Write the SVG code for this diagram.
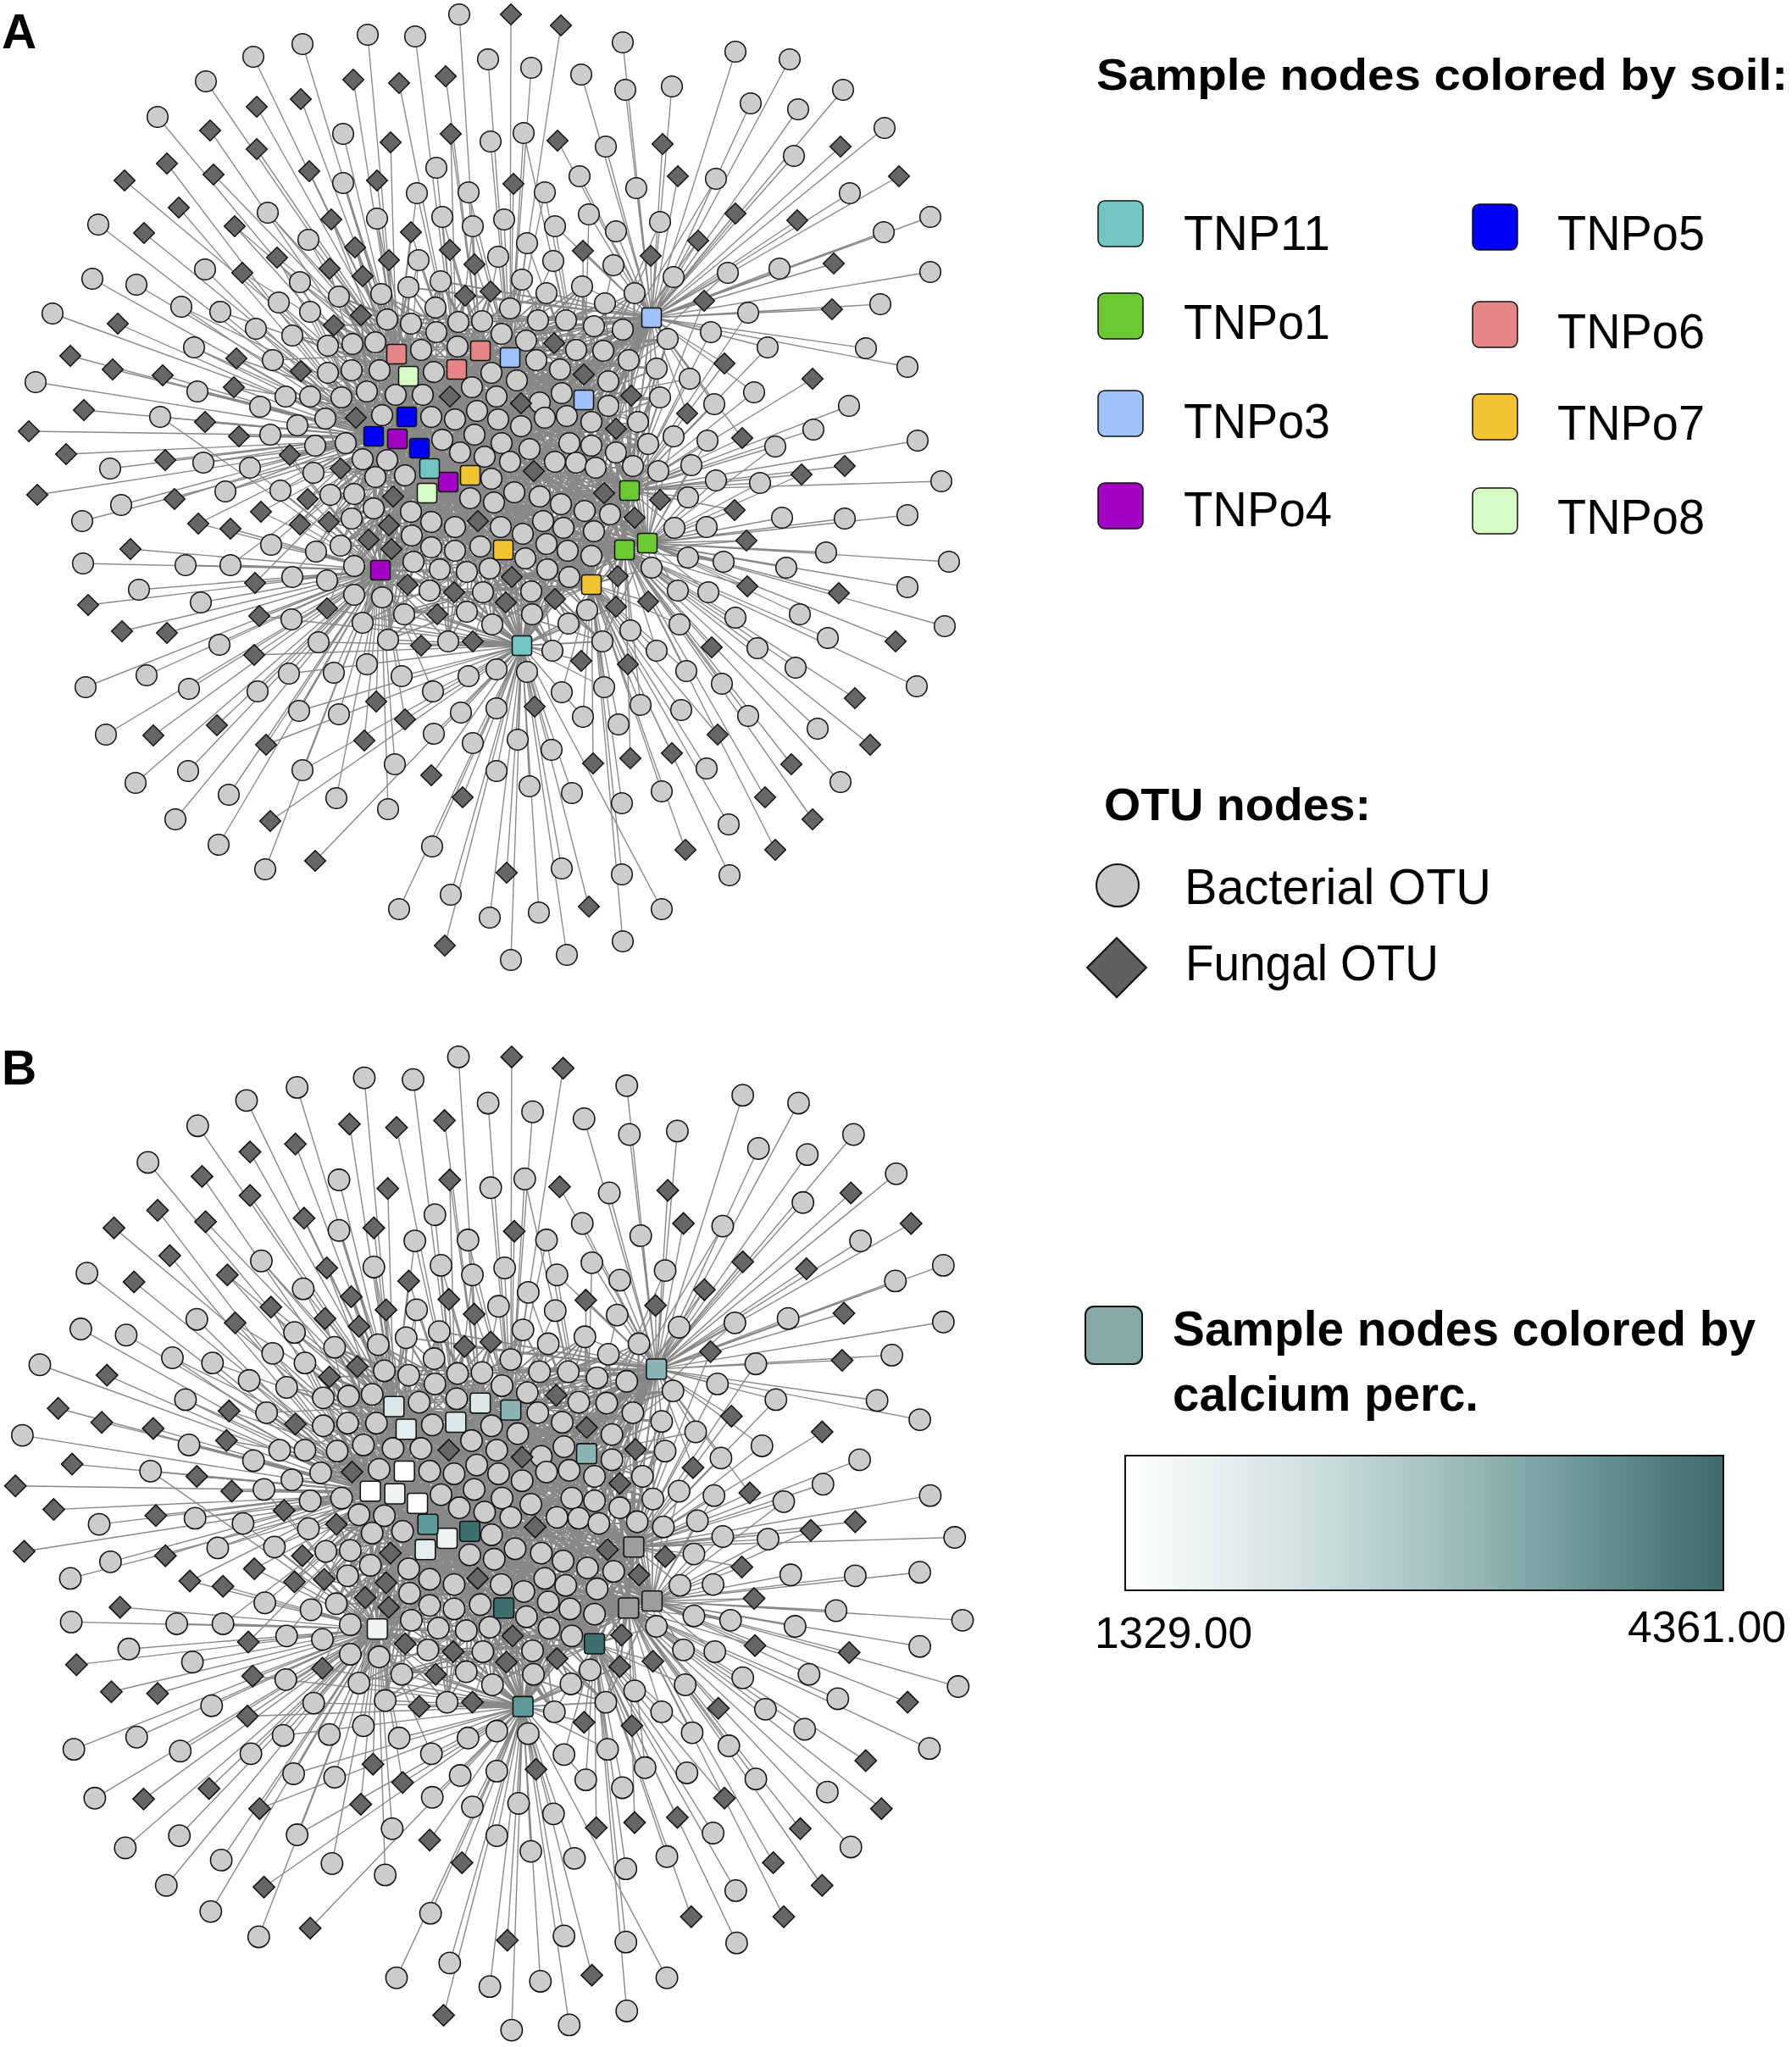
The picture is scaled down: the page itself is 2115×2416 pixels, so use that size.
<svg xmlns="http://www.w3.org/2000/svg" xmlns:xlink="http://www.w3.org/1999/xlink" width="2115" height="2416" viewBox="0 0 2115 2416">
<style>
.e path{fill:none;stroke:#888888;stroke-width:1.35;stroke-linejoin:bevel}
.e path.m{stroke-width:1.8}
.c circle{fill:#cccccc;stroke:#111;stroke-width:1.5}
.d use{fill:#666666;stroke:#111;stroke-width:1.5}
.s{stroke:#111;stroke-width:1.5}
.o11{fill:#72c5c3}.o1{fill:#6cc934}.o3{fill:#9ec3fb}.o4{fill:#a202c3}.o5{fill:#0000fa}.o6{fill:#e58585}.o7{fill:#f1c431}.o8{fill:#d8fcc6}
.b11{fill:#5c9a9a}.b1{fill:#9d9d9d}.b3{fill:#8ab4b4}.b4{fill:#eef4f4}.b5{fill:#ffffff}.b6{fill:#dce7e7}.b7{fill:#3e6e6e}.b8{fill:#e3eded}
.t{font-family:"Liberation Sans",Arial,sans-serif;fill:#000}
.bd{font-weight:700}
</style>
<defs>
<path id="dm" d="M0 -12.3L12.3 0L0 12.3L-12.3 0Z"/>
<linearGradient id="cb" x1="0" y1="0" x2="1" y2="0">
<stop offset="0" stop-color="#ffffff"/>
<stop offset="0.04" stop-color="#f8fbfb"/>
<stop offset="0.3" stop-color="#d0e0e0"/>
<stop offset="0.5" stop-color="#a9c4c4"/>
<stop offset="0.7" stop-color="#7aa3a3"/>
<stop offset="0.9" stop-color="#4f7d7d"/>
<stop offset="1" stop-color="#3e6a6a"/>
</linearGradient>
<g id="net">
<g id="connectors" class="e">
<path class="m" d="M468 418L400 350 743 579 450 347 441 515 482 339 769 375 520 332 449 673 514 363 567 414 457 377 698 690 485 382 480 492 515 392 689 472 541 380 616 762 569 379 482 444 592 394 764 641 602 364 469 518 616 330 602 422 645 346 594 649 687 338 539 436 714 358 737 649 749 346 495 529 621 402 555 561 635 378 504 582 668 378 507 553 701 385 529 569 735 389 468 418 416 406 743 579 443 404 441 515 497 413 769 375 540 409 449 673 680 413 567 414 712 414 698 690 742 425 480 492 387 408 689 472 387 440 616 762 415 437 482 444 448 437 764 641 512 439 469 518 580 440 602 422 633 425 594 649 661 436 539 436 718 450 737 649 403 469 495 529 433 462 555 561 467 466 504 582 499 466 507 553 557 457 529 569 586 468 468 418 610 449 743 579 637 475 441 515 663 464 769 375 718 479 449 673 384 494 567 414 451 490 698 690 509 492 480 492 537 495 689 472 563 485 616 762 588 495 482 444 615 503 764 641 643 493 469 518 669 491 602 422 698 498 594 649 753 498 539 436 408 523 737 649 522 519 495 529 560 513 555 561 592 523 504 582 625 530 507 553 672 523 529 569 698 526 468 418 727 534 743 579 428 542 441 515 457 543 769 375 543 534 449 673 572 539 567 414 602 545 698 690 655 545 480 492 680 546 689 472 703 552 616 762 747 550 482 444 443 563 764 641 478 561 469 518 580 565 602 422 390 584 594 649 418 583 539 436 555 588 737 649 583 593 495 529 607 581 555 561 637 586 504 582 662 595 507 553 690 603 529 569 720 607 468 418 415 612 743 579 441 600 441 515 485 604 769 375 509 616 449 673 537 622 567 414 591 622 698 690 617 630 480 492 641 615 689 472 665 623 616 762 701 627 482 444 402 644 764 641 486 632 469 518 509 646 602 422 537 650 594 649 567 645 539 436 620 659 737 649 645 642 495 529 670 650 555 561 698 656 504 582 418 668 507 553 488 663 529 569 519 672 468 418 551 675 743 579 578 671 441 515 646 672 769 375 672 681 449 673 418 702 567 414 451 705 698 690 507 697 480 492 570 699 689 472 627 698 616 762 693 720 482 444 428 735 764 641 477 725 469 518 551 722 602 422 581 737 594 649 628 725 539 436 671 736 737 649 458 755 495 529 529 757 555 561 652 768 504 582 711 757 507 553 765 524 529 569 777 556 468 418 775 435 743 579 779 469 441 515 788 400 769 375 549 349 449 673 579 344 567 414 426 372 698 690 394 384 480 492 654 405 689 472 689 442 616 762 531 468 482 444 615 476 764 641 745 467 469 518 420 493 602 422 727 506 594 649 402 553 539 436 630 556 737 649 464 586 495 529 713 582 555 561 388 616 504 582 564 615 507 553 749 611 529 569 435 637 468 418 459 620 743 579 462 648 441 515 604 681 769 375 729 680 449 673 481 690 567 414 536 699 698 690 597 711 480 492 655 707 689 472 727 716 616 762"/>
<path class="m" d="M468 418L727 716 743 579 655 707 441 515 597 711 769 375 536 699 449 673 481 690 567 414 729 680 698 690 604 681 480 492 462 648 689 472 459 620 616 762 435 637 482 444 749 611 764 641 564 615 469 518 388 616 602 422 713 582 594 649 464 586 539 436 630 556 737 649 402 553 495 529 727 506 555 561 420 493 504 582 745 467 507 553 615 476 529 569 531 468 468 418 689 442 743 579 654 405 441 515 394 384 769 375 426 372 449 673 579 344 567 414 549 349 698 690 788 400 480 492 779 469 689 472 775 435 616 762 777 556 482 444 765 524 764 641 711 757 469 518 652 768 602 422 529 757 594 649 458 755 539 436 671 736 737 649 628 725 495 529 581 737 555 561 551 722 504 582 477 725 507 553 428 735 529 569 693 720 468 418 627 698 743 579 570 699 441 515 507 697 769 375 451 705 449 673 418 702 567 414 672 681 698 690 646 672 480 492 578 671 689 472 551 675 616 762 519 672 482 444 488 663 764 641 418 668 469 518 698 656 602 422 670 650 594 649 645 642 539 436 620 659 737 649 567 645 495 529 537 650 555 561 509 646 504 582 486 632 507 553 402 644 529 569 701 627 468 418 665 623 743 579 641 615 441 515 617 630 769 375 591 622 449 673 537 622 567 414 509 616 698 690 485 604 480 492 441 600 689 472 415 612 616 762 720 607 482 444 690 603 764 641 662 595 469 518 637 586 602 422 607 581 594 649 583 593 539 436 555 588 737 649 418 583 495 529 390 584 555 561 580 565 504 582 478 561 507 553 443 563 529 569 747 550 468 418 703 552 743 579 680 546 441 515 655 545 769 375 602 545 449 673 572 539 567 414 543 534 698 690 457 543 480 492 428 542 689 472 727 534 616 762 698 526 482 444 672 523 764 641 625 530 469 518 592 523 602 422 560 513 594 649 522 519 539 436 408 523 737 649 753 498 495 529 698 498 555 561 669 491 504 582 643 493 507 553 615 503 529 569 588 495 468 418 563 485 743 579 537 495 441 515 509 492 769 375 451 490 449 673 384 494 567 414 718 479 698 690 663 464 480 492 637 475 689 472 610 449 616 762 586 468 482 444 557 457 764 641 499 466 469 518 467 466 602 422 433 462 594 649 403 469 539 436 718 450 737 649 661 436 495 529 633 425 555 561 580 440 504 582 512 439 507 553 448 437 529 569 415 437 468 418 387 440 743 579 387 408 441 515 742 425 769 375 712 414 449 673 680 413 567 414 540 409 698 690 497 413 480 492 443 404 689 472 416 406 616 762 735 389 482 444 701 385 764 641 668 378 469 518 635 378 602 422 621 402 594 649 749 346 539 436 714 358 737 649 687 338 495 529 645 346 555 561 616 330 504 582 602 364 507 553 592 394 529 569 569 379 468 418 541 380 743 579 515 392 441 515 485 382 769 375 457 377 449 673 514 363 567 414 520 332 698 690 482 339 480 492 450 347 689 472 400 350 616 762"/>
<path class="m" d="M468 418L400 350 567 414 482 339 482 444 514 363 539 436 485 382 507 553 541 380 769 375 592 394 689 472 616 330 602 422 687 338 555 561 749 346 743 579 635 378 698 690 701 385 764 641 416 406 737 649 497 413 529 569 680 413 449 673 742 425 616 762 387 440 594 649 448 437 504 582 580 440 441 515 661 436 480 492 403 469 469 518 467 466 495 529 557 457 468 418 610 449 567 414 663 464 482 444 384 494 539 436 509 492 507 553 563 485 769 375 615 503 689 472 669 491 602 422 753 498 555 561 522 519 743 579 592 523 698 690 672 523 764 641 727 534 737 649 457 543 529 569 572 539 449 673 655 545 616 762 703 552 594 649 443 563 504 582 580 565 441 515 418 583 480 492 583 593 469 518 637 586 495 529 690 603 468 418 415 612 567 414 485 604 482 444 537 622 539 436 617 630 507 553 665 623 769 375 402 644 689 472 509 646 602 422 567 645 555 561 645 642 743 579 698 656 698 690 488 663 764 641 551 675 737 649 646 672 529 569 418 702 449 673 507 697 616 762 627 698 594 649 428 735 504 582 551 722 441 515 628 725 480 492 458 755 469 518 652 768 495 529 765 524 468 418 775 435 567 414 788 400 482 444 579 344 539 436 394 384 507 553 689 442 769 375 615 476 689 472 420 493 602 422 402 553 555 561 464 586 743 579 388 616 698 690 749 611 764 641 459 620 737 649 604 681 529 569 481 690 449 673 597 711 616 762 727 716 594 649 450 347 504 582 520 332 441 515 457 377 480 492 515 392 469 518 569 379 495 529 602 364 468 418 645 346 567 414 714 358 482 444 621 402 539 436 668 378 507 553 735 389 769 375 443 404 689 472 540 409 602 422 712 414 555 561 387 408 743 579 415 437 698 690 512 439 764 641 633 425 737 649 718 450 529 569 433 462 449 673 499 466 616 762 586 468 594 649 637 475 504 582 718 479 441 515 451 490 480 492 537 495 469 518 588 495 495 529 643 493 468 418 698 498 567 414 408 523 482 444 560 513 539 436 625 530 507 553 698 526 769 375 428 542 689 472 543 534 602 422 602 545 555 561 680 546 743 579 747 550 698 690 478 561 764 641 390 584 737 649 555 588 529 569 607 581 449 673 662 595 616 762 720 607 594 649 441 600 504 582 509 616 441 515 591 622 480 492 641 615 469 518 701 627 495 529 486 632 468 418 537 650 567 414 620 659 482 444 670 650 539 436 418 668 507 553 519 672 769 375 578 671 689 472 672 681 602 422 451 705 555 561 570 699 743 579 693 720 698 690 477 725 764 641 581 737 737 649 671 736 529 569 529 757 449 673 711 757 616 762 777 556 594 649 779 469 504 582 549 349 441 515 426 372 480 492 654 405 469 518 531 468 495 529 745 467 468 418 727 506 567 414 630 556 482 444 713 582 539 436 564 615 507 553 435 637 769 375 462 648 689 472 729 680 602 422 536 699 555 561 655 707 743 579"/>
<path d="M468 418L357 52M468 418L299 67M468 418L355 117M468 418L303 176M468 418L365 202M468 418L316 251M468 418L364 283M468 418L327 304M468 418L354 333M468 418L366 368M468 418L345 396M468 418L322 425M468 418L366 468M468 418L434 41M468 418L417 94M468 418L405 158M468 418L461 168M468 418L405 216M468 418L445 213M468 418L492 228M468 418L391 259M468 418L445 258M468 418L485 274M468 418L419 292M468 418L389 317M468 418L459 307M468 418L494 307M468 418L428 326M468 418L482 339M468 418L400 350M468 418L450 347M468 418L426 372M468 418L394 384M468 418L457 377M468 418L485 382M468 418L416 406M468 418L443 404M468 418L387 408M468 418L387 440M468 418L415 437M468 418L448 437"/>
<path d="M482 444L243 96M482 444L303 126M482 444L252 206M482 444L316 251M482 444L277 267M482 444L286 322M482 444L354 333M482 444L260 368M482 444L345 396M482 444L355 438M482 444L405 216M482 444L445 258M482 444L419 292M482 444L459 307M482 444L494 307M482 444L482 339M482 444L520 332M482 444L400 350M482 444L450 347M482 444L514 363M482 444L426 372M482 444L457 377M482 444L485 382M482 444L515 392M482 444L443 404M482 444L497 413M482 444L415 437M482 444L448 437M482 444L512 439M482 444L433 462M482 444L467 466M482 444L499 466"/>
<path d="M480 492L186 138M480 492L248 154M480 492L147 213M480 492L277 267M480 492L364 283M480 492L329 357M480 492L214 362M480 492L366 368M480 492L279 423M480 492L355 438M480 492L276 457M480 492L337 468M480 492L366 468M480 492L351 502M480 492L391 259M480 492L419 292M480 492L428 326M480 492L400 350M480 492L394 384M480 492L457 377M480 492L416 406M480 492L387 440M480 492L448 437M480 492L512 439M480 492L403 469M480 492L433 462M480 492L467 466M480 492L499 466M480 492L531 468M480 492L384 494M480 492L420 493M480 492L451 490M480 492L509 492"/>
<path d="M441 515L197 193M441 515L211 245M441 515L116 265M441 515L327 304M441 515L242 318M441 515L109 329M441 515L354 333M441 515L214 362M441 515L260 368M441 515L366 368M441 515L139 382M441 515L302 388M441 515L345 396M441 515L229 410M441 515L83 420M441 515L279 423M441 515L322 425M441 515L355 438M441 515L192 443M441 515L42 451M441 515L233 462M441 515L276 457M441 515L337 468M441 515L307 480M441 515L366 468M441 515L189 492M441 515L242 498M441 515L351 502M441 515L34 509M441 515L282 515M441 515L319 513M441 515L372 526M441 515L342 537M441 515L195 543M441 515L240 546M441 515L295 552M441 515L130 553M441 515L370 558M441 515L389 317M441 515L426 372M441 515L416 406M441 515L387 408M441 515L387 440M441 515L415 437M441 515L403 469M441 515L433 462M441 515L384 494M441 515L420 493M441 515L451 490M441 515L408 523M441 515L428 542M441 515L457 543M441 515L402 553M441 515L443 563M441 515L143 596M441 515L206 589M441 515L266 580M441 515L331 579M441 515L363 589M441 515L234 618M441 515L354 619M441 515L373 651M441 515L390 584"/>
<path d="M469 518L170 275M469 518L286 322M469 518L161 336M469 518L329 357M469 518L62 370M469 518L302 388M469 518L229 410M469 518L322 425M469 518L133 436M469 518L233 462M469 518L337 468M469 518L307 480M469 518L366 468M469 518L99 484M469 518L242 498M469 518L351 502M469 518L282 515M469 518L319 513M469 518L372 526M469 518L78 536M469 518L342 537M469 518L240 546M469 518L370 558M469 518L44 584M469 518L403 469M469 518L384 494M469 518L420 493M469 518L451 490M469 518L408 523M469 518L428 542M469 518L457 543M469 518L402 553M469 518L443 563M469 518L478 561M469 518L266 580M469 518L331 579M469 518L363 589M469 518L97 615M469 518L308 604M469 518L354 619M469 518L320 643M469 518L373 651M469 518L272 667M469 518L301 688M469 518L345 681M469 518L386 718M469 518L390 584M469 518L418 583M469 518L464 586M469 518L388 616M469 518L415 612M469 518L441 600M469 518L402 644M469 518L435 637"/>
<path d="M449 673L189 492M449 673L319 513M449 673L342 537M449 673L295 552M449 673L402 553M449 673L443 563M449 673L331 579M449 673L363 589M449 673L234 618M449 673L308 604M449 673L272 624M449 673L354 619M449 673L154 648M449 673L320 643M449 673L373 651M449 673L98 665M449 673L219 667M449 673L272 667M449 673L301 688M449 673L345 681M449 673L164 696M449 673L104 714M449 673L237 711M449 673L306 727M449 673L344 731M449 673L144 745M449 673L197 747M449 673L259 761M449 673L376 758M449 673L300 773M449 673L173 797M449 673L101 811M449 673L223 813M449 673L341 795M449 673L304 816M449 673L353 839M449 673L256 856M449 673L125 867M449 673L181 868M449 673L314 879M449 673L222 910M449 673L357 909M449 673L160 924M449 673L270 938M449 673L207 967M449 673L258 997M449 673L313 1026M449 673L390 584M449 673L418 583M449 673L464 586M449 673L388 616M449 673L415 612M449 673L441 600M449 673L485 604M449 673L402 644M449 673L435 637M449 673L459 620M449 673L486 632M449 673L509 646M449 673L462 648M449 673L418 668M449 673L386 685M449 673L488 663M449 673L519 672M449 673L481 690M449 673L418 702M449 673L451 705M449 673L507 697M449 673L386 718M449 673L428 735M449 673L477 725M449 673L516 725M449 673L458 755M449 673L497 762M449 673L394 794M449 673L433 784M449 673L474 798M449 673L511 816M449 673L444 828M449 673L400 843M449 673L478 849M449 673L430 874M449 673L466 902M449 673L397 942M449 673L458 955"/>
<path d="M539 436L490 43M539 436L471 98M539 436L532 158M539 436L515 198M539 436L492 228M539 436L522 256M539 436L558 267M539 436L485 274M539 436L494 307M539 436L531 295M539 436L482 339M539 436L520 332M539 436L549 349M539 436L514 363M539 436L485 382M539 436L515 392M539 436L541 380M539 436L497 413M539 436L540 409M539 436L512 439M539 436L580 440M539 436L499 466M539 436L531 468M539 436L557 457M539 436L509 492M539 436L537 495M539 436L563 485M539 436L522 519"/>
<path d="M567 414L542 17M567 414L526 90M567 414L532 158M567 414L553 227M567 414L522 256M567 414L558 267M567 414L531 295M567 414L560 312M567 414L588 303M567 414L616 330M567 414L520 332M567 414L549 349M567 414L579 344M567 414L514 363M567 414L602 364M567 414L541 380M567 414L569 379M567 414L592 394M567 414L540 409M567 414L580 440"/>
<path d="M602 422L603 17M602 422L662 30M602 422L576 70M602 422L627 80M602 422L579 167M602 422L618 157M602 422L553 227M602 422L606 217M602 422L643 227M602 422L558 267M602 422L595 259M602 422L622 287M602 422L560 312M602 422L588 303M602 422L653 308M602 422L616 330M602 422L579 344M602 422L645 346M602 422L602 364M602 422L569 379M602 422L592 394M602 422L621 402M602 422L635 378M602 422L654 405M602 422L580 440M602 422L633 425M602 422L661 436M602 422L557 457M602 422L586 468M602 422L610 449M602 422L615 476M602 422L637 475M602 422L563 485M602 422L588 495"/>
<path d="M769 375L735 50M769 375L686 88M769 375L738 106M769 375L658 166M769 375L715 173M769 375L684 208M769 375L751 222M769 375L655 267M769 375L695 253M769 375L727 273M769 375L688 296M769 375L724 313M769 375L645 346M769 375L687 338M769 375L714 358M769 375L749 346M769 375L635 378M769 375L668 378M769 375L701 385M769 375L735 389M769 375L654 405M769 375L680 413M769 375L712 414M769 375L742 425M769 375L689 442M769 375L718 450M769 375L663 464M769 375L745 467M769 375L753 498M769 375L868 61M769 375L932 70M769 375L793 102M769 375L886 122M769 375L942 129M769 375L995 106M769 375L1044 151M769 375L782 170M769 375L992 173M769 375L937 184M769 375L800 208M769 375L845 211M769 375L1061 208M769 375L1003 228M769 375L868 252M769 375L941 260M769 375L779 262M769 375L1098 256M769 375L1043 274M769 375L824 284M769 375L768 302M769 375L984 311M769 375L795 327M769 375L859 322M769 375L920 317M769 375L1098 321M769 375L831 355M769 375L883 369M769 375L982 365M769 375L1039 359M769 375L788 400M769 375L839 392M769 375L906 410M769 375L1022 411M769 375L775 435M769 375L855 429M769 375L814 447M769 375L1071 433M769 375L779 469M769 375L843 477M769 375L890 463M769 375L811 488M769 375L876 517M769 375L765 524"/>
<path d="M689 472L618 157M689 472L643 227M689 472L655 267M689 472L695 253M689 472L622 287M689 472L688 296M689 472L653 308M689 472L724 313M689 472L616 330M689 472L645 346M689 472L687 338M689 472L714 358M689 472L602 364M689 472L621 402M689 472L635 378M689 472L668 378M689 472L701 385M689 472L654 405M689 472L680 413M689 472L712 414M689 472L633 425M689 472L661 436M689 472L689 442M689 472L718 450M689 472L586 468M689 472L610 449M689 472L615 476M689 472L637 475M689 472L663 464M689 472L718 479M689 472L745 467M689 472L588 495M689 472L615 503M689 472L643 493M689 472L669 491M689 472L698 498M689 472L727 506M689 472L560 513M689 472L592 523M689 472L625 530M689 472L672 523M689 472L698 526M689 472L727 534M689 472L602 545M689 472L655 545M689 472L680 546M689 472L703 552M689 472L845 211M689 472L868 252M689 472L779 262M689 472L824 284M689 472L768 302M689 472L795 327M689 472L859 322M689 472L788 400M689 472L775 435M689 472L814 447M689 472L779 469M689 472L765 524M689 472L607 581M689 472L713 582"/>
<path d="M743 579L735 389M743 579L742 425M743 579L718 450M743 579L718 479M743 579L745 467M743 579L643 493M743 579L669 491M743 579L698 498M743 579L753 498M743 579L727 506M743 579L625 530M743 579L672 523M743 579L698 526M743 579L727 534M743 579L655 545M743 579L680 546M743 579L703 552M743 579L747 550M743 579L630 556M743 579L831 355M743 579L883 369M743 579L788 400M743 579L839 392M743 579L906 410M743 579L775 435M743 579L855 429M743 579L814 447M743 579L959 447M743 579L779 469M743 579L843 477M743 579L890 463M743 579L1002 479M743 579L811 488M743 579L795 515M743 579L835 520M743 579L876 517M743 579L960 507M743 579L915 527M743 579L1083 520M743 579L765 524M743 579L777 556M743 579L816 549M743 579L997 550M743 579L946 560M743 579L845 567M743 579L897 570M743 579L1111 568M743 579L637 586M743 579L662 595M743 579L690 603M743 579L713 582M743 579L720 607M743 579L641 615M743 579L701 627M743 579L749 611M743 579L779 590M743 579L812 587M743 579L867 602M743 579L796 623"/>
<path d="M764 641L747 550M764 641L795 515M764 641L835 520M764 641L915 527M764 641L777 556M764 641L816 549M764 641L946 560M764 641L845 567M764 641L897 570M764 641L749 611M764 641L779 590M764 641L812 587M764 641L867 602M764 641L923 611M764 641L997 612M764 641L1071 608M764 641L796 623M764 641L834 622M764 641L881 638M764 641L975 652M764 641L1120 663M764 641L812 658M764 641L854 663M764 641L928 670M764 641L769 670M764 641L882 692M764 641L990 700M764 641L1071 693M764 641L800 697M764 641L836 699M764 641L944 725M764 641L1115 739M764 641L1057 757"/>
<path d="M737 649L720 607M737 649L665 623M737 649L701 627M737 649L645 642M737 649L670 650M737 649L698 656M737 649L672 681M737 649L729 680M737 649L727 716M737 649L744 744M737 649L711 757M737 649L741 784M737 649L756 832M737 649L744 895M737 649L881 638M737 649L812 658M737 649L854 663M737 649L769 670M737 649L882 692M737 649L800 697M737 649L836 699M737 649L765 710M737 649L868 729M737 649L802 737M737 649L977 753M737 649L840 764M737 649L894 765M737 649L775 768M737 649L939 788M737 649L810 792M737 649L852 807M737 649L1082 810M737 649L1009 824M737 649L883 845M737 649L965 860M737 649L1027 879M737 649L934 902M737 649L992 923M737 649L903 941M737 649L959 967M737 649L915 1003"/>
<path d="M698 690L662 595M698 690L690 603M698 690L617 630M698 690L641 615M698 690L665 623M698 690L701 627M698 690L620 659M698 690L645 642M698 690L670 650M698 690L698 656M698 690L604 681M698 690L646 672M698 690L672 681M698 690L729 680M698 690L627 698M698 690L655 707M698 690L727 716M698 690L693 720M698 690L628 725M698 690L671 736M698 690L744 744M698 690L652 768M698 690L686 780M698 690L711 757M698 690L741 784M698 690L663 817M698 690L713 811M698 690L756 832M698 690L688 846M698 690L730 855M698 690L700 901M698 690L734 948M698 690L734 1032M698 690L735 1111M698 690L769 670M698 690L765 710M698 690L802 737M698 690L775 768M698 690L810 792M698 690L804 838M698 690L847 867M698 690L793 889M698 690L834 907M698 690L781 934M698 690L860 973M698 690L809 1003M698 690L861 1033"/>
<path d="M555 561L557 457M555 561L586 468M555 561L615 476M555 561L537 495M555 561L563 485M555 561L588 495M555 561L615 503M555 561L560 513M555 561L592 523M555 561L625 530M555 561L543 534M555 561L572 539M555 561L602 545M555 561L655 545M555 561L630 556M555 561L580 565M555 561L555 588M555 561L583 593M555 561L607 581M555 561L637 586M555 561L564 615M555 561L591 622"/>
<path d="M594 649L602 545M594 649L630 556M594 649L580 565M594 649L583 593M594 649L607 581M594 649L637 586M594 649L662 595M594 649L509 616M594 649L537 622M594 649L564 615M594 649L591 622M594 649L617 630M594 649L641 615M594 649L486 632M594 649L509 646M594 649L537 650M594 649L567 645M594 649L620 659M594 649L645 642M594 649L488 663M594 649L519 672M594 649L551 675M594 649L578 671M594 649L604 681M594 649L646 672M594 649L481 690M594 649L507 697M594 649L536 699M594 649L570 699M594 649L627 698M594 649L597 711M594 649L551 722M594 649L581 737M594 649L558 757"/>
<path d="M507 553L531 468M507 553L537 495M507 553L522 519M507 553L560 513M507 553L428 542M507 553L457 543M507 553L543 534M507 553L572 539M507 553L478 561M507 553L415 612M507 553L370 558"/>
<path d="M495 529L372 526M495 529L509 492M495 529L522 519M495 529L543 534"/>
<path d="M529 569L555 588M529 569L485 604M529 569L509 616M529 569L537 622M529 569L537 650"/>
<path d="M504 582L478 561M504 582L464 586M504 582L555 588M504 582L441 600M504 582L485 604M504 582L509 616M504 582L459 620M504 582L486 632M504 582L462 648"/>
<path d="M616 762L386 685M616 762L306 727M616 762L386 718M616 762L376 758M616 762L300 773M616 762L341 795M616 762L353 839M616 762L314 879M616 762L357 909M616 762L319 969M616 762L372 1016M616 762L551 675M616 762L451 705M616 762L507 697M616 762L536 699M616 762L570 699M616 762L627 698M616 762L597 711M616 762L655 707M616 762L693 720M616 762L428 735M616 762L477 725M616 762L516 725M616 762L551 722M616 762L581 737M616 762L628 725M616 762L671 736M616 762L458 755M616 762L497 762M616 762L529 757M616 762L558 757M616 762L652 768M616 762L686 780M616 762L433 784M616 762L474 798M616 762L553 798M616 762L586 790M616 762L622 793M616 762L663 817M616 762L713 811M616 762L511 816M616 762L478 849M616 762L544 841M616 762L586 836M616 762L631 834M616 762L688 846M616 762L512 866M616 762L558 877M616 762L611 873M616 762L651 885M616 762L509 915M616 762L586 910M616 762L625 928M616 762L675 936M616 762L546 941M616 762L510 999M616 762L663 1025M616 762L598 1030M616 762L532 1056M616 762L471 1073M616 762L578 1083M616 762L636 1077M616 762L695 1070M616 762L525 1116M616 762L603 1133M616 762L669 1127M616 762L781 1073"/>
</g>
<g id="bacterial-otus" class="c">
<circle cx="357" cy="52" r="12.3"/><circle cx="299" cy="67" r="12.3"/><circle cx="243" cy="96" r="12.3"/><circle cx="186" cy="138" r="12.3"/><circle cx="316" cy="251" r="12.3"/><circle cx="116" cy="265" r="12.3"/><circle cx="364" cy="283" r="12.3"/><circle cx="242" cy="318" r="12.3"/><circle cx="109" cy="329" r="12.3"/><circle cx="161" cy="336" r="12.3"/><circle cx="354" cy="333" r="12.3"/><circle cx="329" cy="357" r="12.3"/><circle cx="214" cy="362" r="12.3"/><circle cx="260" cy="368" r="12.3"/><circle cx="366" cy="368" r="12.3"/><circle cx="62" cy="370" r="12.3"/><circle cx="302" cy="388" r="12.3"/><circle cx="345" cy="396" r="12.3"/><circle cx="229" cy="410" r="12.3"/><circle cx="322" cy="425" r="12.3"/><circle cx="42" cy="451" r="12.3"/><circle cx="233" cy="462" r="12.3"/><circle cx="337" cy="468" r="12.3"/><circle cx="307" cy="480" r="12.3"/><circle cx="366" cy="468" r="12.3"/><circle cx="189" cy="492" r="12.3"/><circle cx="351" cy="502" r="12.3"/><circle cx="319" cy="513" r="12.3"/><circle cx="372" cy="526" r="12.3"/><circle cx="240" cy="546" r="12.3"/><circle cx="295" cy="552" r="12.3"/><circle cx="130" cy="553" r="12.3"/><circle cx="370" cy="558" r="12.3"/>
<circle cx="542" cy="17" r="12.3"/><circle cx="434" cy="41" r="12.3"/><circle cx="490" cy="43" r="12.3"/><circle cx="735" cy="50" r="12.3"/><circle cx="576" cy="70" r="12.3"/><circle cx="627" cy="80" r="12.3"/><circle cx="686" cy="88" r="12.3"/><circle cx="738" cy="106" r="12.3"/><circle cx="405" cy="158" r="12.3"/><circle cx="579" cy="167" r="12.3"/><circle cx="618" cy="157" r="12.3"/><circle cx="715" cy="173" r="12.3"/><circle cx="515" cy="198" r="12.3"/><circle cx="405" cy="216" r="12.3"/><circle cx="492" cy="228" r="12.3"/><circle cx="553" cy="227" r="12.3"/><circle cx="643" cy="227" r="12.3"/><circle cx="684" cy="208" r="12.3"/><circle cx="751" cy="222" r="12.3"/><circle cx="445" cy="258" r="12.3"/><circle cx="522" cy="256" r="12.3"/><circle cx="558" cy="267" r="12.3"/><circle cx="595" cy="259" r="12.3"/><circle cx="655" cy="267" r="12.3"/><circle cx="695" cy="253" r="12.3"/><circle cx="727" cy="273" r="12.3"/><circle cx="622" cy="287" r="12.3"/><circle cx="494" cy="307" r="12.3"/><circle cx="588" cy="303" r="12.3"/><circle cx="653" cy="308" r="12.3"/><circle cx="724" cy="313" r="12.3"/><circle cx="616" cy="330" r="12.3"/><circle cx="482" cy="339" r="12.3"/><circle cx="520" cy="332" r="12.3"/><circle cx="645" cy="346" r="12.3"/><circle cx="687" cy="338" r="12.3"/><circle cx="714" cy="358" r="12.3"/><circle cx="749" cy="346" r="12.3"/><circle cx="400" cy="350" r="12.3"/><circle cx="450" cy="347" r="12.3"/><circle cx="514" cy="363" r="12.3"/><circle cx="602" cy="364" r="12.3"/><circle cx="457" cy="377" r="12.3"/><circle cx="485" cy="382" r="12.3"/><circle cx="515" cy="392" r="12.3"/><circle cx="541" cy="380" r="12.3"/><circle cx="569" cy="379" r="12.3"/><circle cx="592" cy="394" r="12.3"/><circle cx="621" cy="402" r="12.3"/><circle cx="635" cy="378" r="12.3"/><circle cx="668" cy="378" r="12.3"/><circle cx="701" cy="385" r="12.3"/><circle cx="735" cy="389" r="12.3"/><circle cx="416" cy="406" r="12.3"/><circle cx="443" cy="404" r="12.3"/><circle cx="497" cy="413" r="12.3"/><circle cx="540" cy="409" r="12.3"/><circle cx="680" cy="413" r="12.3"/><circle cx="712" cy="414" r="12.3"/><circle cx="742" cy="425" r="12.3"/><circle cx="387" cy="408" r="12.3"/><circle cx="387" cy="440" r="12.3"/><circle cx="415" cy="437" r="12.3"/><circle cx="448" cy="437" r="12.3"/><circle cx="512" cy="439" r="12.3"/><circle cx="580" cy="440" r="12.3"/><circle cx="633" cy="425" r="12.3"/><circle cx="661" cy="436" r="12.3"/><circle cx="718" cy="450" r="12.3"/><circle cx="403" cy="469" r="12.3"/><circle cx="433" cy="462" r="12.3"/><circle cx="467" cy="466" r="12.3"/><circle cx="499" cy="466" r="12.3"/><circle cx="557" cy="457" r="12.3"/><circle cx="586" cy="468" r="12.3"/><circle cx="610" cy="449" r="12.3"/><circle cx="637" cy="475" r="12.3"/><circle cx="663" cy="464" r="12.3"/><circle cx="718" cy="479" r="12.3"/><circle cx="384" cy="494" r="12.3"/><circle cx="451" cy="490" r="12.3"/><circle cx="509" cy="492" r="12.3"/><circle cx="537" cy="495" r="12.3"/><circle cx="563" cy="485" r="12.3"/><circle cx="588" cy="495" r="12.3"/><circle cx="615" cy="503" r="12.3"/><circle cx="643" cy="493" r="12.3"/><circle cx="669" cy="491" r="12.3"/><circle cx="698" cy="498" r="12.3"/><circle cx="753" cy="498" r="12.3"/><circle cx="408" cy="523" r="12.3"/><circle cx="522" cy="519" r="12.3"/><circle cx="560" cy="513" r="12.3"/><circle cx="592" cy="523" r="12.3"/><circle cx="625" cy="530" r="12.3"/><circle cx="672" cy="523" r="12.3"/><circle cx="698" cy="526" r="12.3"/><circle cx="727" cy="534" r="12.3"/><circle cx="428" cy="542" r="12.3"/><circle cx="457" cy="543" r="12.3"/><circle cx="543" cy="534" r="12.3"/><circle cx="572" cy="539" r="12.3"/><circle cx="602" cy="545" r="12.3"/><circle cx="655" cy="545" r="12.3"/><circle cx="680" cy="546" r="12.3"/><circle cx="703" cy="552" r="12.3"/><circle cx="747" cy="550" r="12.3"/><circle cx="443" cy="563" r="12.3"/><circle cx="478" cy="561" r="12.3"/><circle cx="580" cy="565" r="12.3"/>
<circle cx="868" cy="61" r="12.3"/><circle cx="932" cy="70" r="12.3"/><circle cx="793" cy="102" r="12.3"/><circle cx="886" cy="122" r="12.3"/><circle cx="942" cy="129" r="12.3"/><circle cx="995" cy="106" r="12.3"/><circle cx="1044" cy="151" r="12.3"/><circle cx="937" cy="184" r="12.3"/><circle cx="845" cy="211" r="12.3"/><circle cx="1003" cy="228" r="12.3"/><circle cx="779" cy="262" r="12.3"/><circle cx="1098" cy="256" r="12.3"/><circle cx="1043" cy="274" r="12.3"/><circle cx="795" cy="327" r="12.3"/><circle cx="859" cy="322" r="12.3"/><circle cx="920" cy="317" r="12.3"/><circle cx="1098" cy="321" r="12.3"/><circle cx="883" cy="369" r="12.3"/><circle cx="1039" cy="359" r="12.3"/><circle cx="788" cy="400" r="12.3"/><circle cx="839" cy="392" r="12.3"/><circle cx="906" cy="410" r="12.3"/><circle cx="1022" cy="411" r="12.3"/><circle cx="775" cy="435" r="12.3"/><circle cx="814" cy="447" r="12.3"/><circle cx="1071" cy="433" r="12.3"/><circle cx="779" cy="469" r="12.3"/><circle cx="843" cy="477" r="12.3"/><circle cx="890" cy="463" r="12.3"/><circle cx="1002" cy="479" r="12.3"/><circle cx="795" cy="515" r="12.3"/><circle cx="835" cy="520" r="12.3"/><circle cx="960" cy="507" r="12.3"/><circle cx="915" cy="527" r="12.3"/><circle cx="1083" cy="520" r="12.3"/><circle cx="765" cy="524" r="12.3"/><circle cx="777" cy="556" r="12.3"/><circle cx="816" cy="549" r="12.3"/><circle cx="845" cy="567" r="12.3"/><circle cx="897" cy="570" r="12.3"/><circle cx="1111" cy="568" r="12.3"/>
<circle cx="143" cy="596" r="12.3"/><circle cx="266" cy="580" r="12.3"/><circle cx="331" cy="579" r="12.3"/><circle cx="97" cy="615" r="12.3"/><circle cx="320" cy="643" r="12.3"/><circle cx="373" cy="651" r="12.3"/><circle cx="98" cy="665" r="12.3"/><circle cx="219" cy="667" r="12.3"/><circle cx="272" cy="667" r="12.3"/><circle cx="345" cy="681" r="12.3"/><circle cx="164" cy="696" r="12.3"/><circle cx="237" cy="711" r="12.3"/><circle cx="344" cy="731" r="12.3"/><circle cx="259" cy="761" r="12.3"/><circle cx="376" cy="758" r="12.3"/><circle cx="173" cy="797" r="12.3"/><circle cx="101" cy="811" r="12.3"/><circle cx="223" cy="813" r="12.3"/><circle cx="341" cy="795" r="12.3"/><circle cx="304" cy="816" r="12.3"/><circle cx="353" cy="839" r="12.3"/><circle cx="125" cy="867" r="12.3"/><circle cx="222" cy="910" r="12.3"/><circle cx="357" cy="909" r="12.3"/><circle cx="160" cy="924" r="12.3"/><circle cx="270" cy="938" r="12.3"/><circle cx="207" cy="967" r="12.3"/><circle cx="258" cy="997" r="12.3"/><circle cx="313" cy="1026" r="12.3"/>
<circle cx="390" cy="584" r="12.3"/><circle cx="418" cy="583" r="12.3"/><circle cx="555" cy="588" r="12.3"/><circle cx="583" cy="593" r="12.3"/><circle cx="607" cy="581" r="12.3"/><circle cx="637" cy="586" r="12.3"/><circle cx="662" cy="595" r="12.3"/><circle cx="690" cy="603" r="12.3"/><circle cx="720" cy="607" r="12.3"/><circle cx="415" cy="612" r="12.3"/><circle cx="441" cy="600" r="12.3"/><circle cx="485" cy="604" r="12.3"/><circle cx="509" cy="616" r="12.3"/><circle cx="537" cy="622" r="12.3"/><circle cx="591" cy="622" r="12.3"/><circle cx="617" cy="630" r="12.3"/><circle cx="641" cy="615" r="12.3"/><circle cx="665" cy="623" r="12.3"/><circle cx="701" cy="627" r="12.3"/><circle cx="402" cy="644" r="12.3"/><circle cx="486" cy="632" r="12.3"/><circle cx="509" cy="646" r="12.3"/><circle cx="537" cy="650" r="12.3"/><circle cx="567" cy="645" r="12.3"/><circle cx="620" cy="659" r="12.3"/><circle cx="645" cy="642" r="12.3"/><circle cx="670" cy="650" r="12.3"/><circle cx="698" cy="656" r="12.3"/><circle cx="418" cy="668" r="12.3"/><circle cx="386" cy="685" r="12.3"/><circle cx="488" cy="663" r="12.3"/><circle cx="519" cy="672" r="12.3"/><circle cx="551" cy="675" r="12.3"/><circle cx="578" cy="671" r="12.3"/><circle cx="646" cy="672" r="12.3"/><circle cx="672" cy="681" r="12.3"/><circle cx="418" cy="702" r="12.3"/><circle cx="451" cy="705" r="12.3"/><circle cx="507" cy="697" r="12.3"/><circle cx="570" cy="699" r="12.3"/><circle cx="627" cy="698" r="12.3"/><circle cx="693" cy="720" r="12.3"/><circle cx="428" cy="735" r="12.3"/><circle cx="477" cy="725" r="12.3"/><circle cx="551" cy="722" r="12.3"/><circle cx="581" cy="737" r="12.3"/><circle cx="628" cy="725" r="12.3"/><circle cx="671" cy="736" r="12.3"/><circle cx="744" cy="744" r="12.3"/><circle cx="458" cy="755" r="12.3"/><circle cx="529" cy="757" r="12.3"/><circle cx="652" cy="768" r="12.3"/><circle cx="711" cy="757" r="12.3"/><circle cx="394" cy="794" r="12.3"/><circle cx="433" cy="784" r="12.3"/><circle cx="474" cy="798" r="12.3"/><circle cx="553" cy="798" r="12.3"/><circle cx="586" cy="790" r="12.3"/><circle cx="622" cy="793" r="12.3"/><circle cx="663" cy="817" r="12.3"/><circle cx="713" cy="811" r="12.3"/><circle cx="756" cy="832" r="12.3"/><circle cx="511" cy="816" r="12.3"/><circle cx="400" cy="843" r="12.3"/><circle cx="544" cy="841" r="12.3"/><circle cx="586" cy="836" r="12.3"/><circle cx="688" cy="846" r="12.3"/><circle cx="730" cy="855" r="12.3"/><circle cx="512" cy="866" r="12.3"/><circle cx="558" cy="877" r="12.3"/><circle cx="611" cy="873" r="12.3"/><circle cx="651" cy="885" r="12.3"/><circle cx="466" cy="902" r="12.3"/><circle cx="586" cy="910" r="12.3"/><circle cx="625" cy="928" r="12.3"/><circle cx="675" cy="936" r="12.3"/><circle cx="734" cy="948" r="12.3"/><circle cx="397" cy="942" r="12.3"/><circle cx="458" cy="955" r="12.3"/><circle cx="510" cy="999" r="12.3"/><circle cx="663" cy="1025" r="12.3"/><circle cx="734" cy="1032" r="12.3"/><circle cx="532" cy="1056" r="12.3"/><circle cx="471" cy="1073" r="12.3"/><circle cx="578" cy="1083" r="12.3"/><circle cx="636" cy="1077" r="12.3"/><circle cx="735" cy="1111" r="12.3"/><circle cx="603" cy="1133" r="12.3"/><circle cx="669" cy="1127" r="12.3"/>
<circle cx="812" cy="587" r="12.3"/><circle cx="923" cy="611" r="12.3"/><circle cx="997" cy="612" r="12.3"/><circle cx="1071" cy="608" r="12.3"/><circle cx="796" cy="623" r="12.3"/><circle cx="834" cy="622" r="12.3"/><circle cx="975" cy="652" r="12.3"/><circle cx="1120" cy="663" r="12.3"/><circle cx="812" cy="658" r="12.3"/><circle cx="854" cy="663" r="12.3"/><circle cx="928" cy="670" r="12.3"/><circle cx="769" cy="670" r="12.3"/><circle cx="1071" cy="693" r="12.3"/><circle cx="800" cy="697" r="12.3"/><circle cx="836" cy="699" r="12.3"/><circle cx="868" cy="729" r="12.3"/><circle cx="944" cy="725" r="12.3"/><circle cx="1115" cy="739" r="12.3"/><circle cx="802" cy="737" r="12.3"/><circle cx="977" cy="753" r="12.3"/><circle cx="894" cy="765" r="12.3"/><circle cx="775" cy="768" r="12.3"/><circle cx="939" cy="788" r="12.3"/><circle cx="810" cy="792" r="12.3"/><circle cx="852" cy="807" r="12.3"/><circle cx="1082" cy="810" r="12.3"/><circle cx="804" cy="838" r="12.3"/><circle cx="883" cy="845" r="12.3"/><circle cx="965" cy="860" r="12.3"/><circle cx="834" cy="907" r="12.3"/><circle cx="992" cy="923" r="12.3"/><circle cx="781" cy="934" r="12.3"/><circle cx="860" cy="973" r="12.3"/><circle cx="861" cy="1033" r="12.3"/><circle cx="781" cy="1073" r="12.3"/>
</g>
<g id="fungal-otus" class="d">
<use href="#dm" x="355" y="117"/><use href="#dm" x="303" y="126"/><use href="#dm" x="248" y="154"/><use href="#dm" x="303" y="176"/><use href="#dm" x="197" y="193"/><use href="#dm" x="252" y="206"/><use href="#dm" x="365" y="202"/><use href="#dm" x="147" y="213"/><use href="#dm" x="211" y="245"/><use href="#dm" x="170" y="275"/><use href="#dm" x="277" y="267"/><use href="#dm" x="327" y="304"/><use href="#dm" x="286" y="322"/><use href="#dm" x="139" y="382"/><use href="#dm" x="83" y="420"/><use href="#dm" x="279" y="423"/><use href="#dm" x="355" y="438"/><use href="#dm" x="133" y="436"/><use href="#dm" x="192" y="443"/><use href="#dm" x="276" y="457"/><use href="#dm" x="99" y="484"/><use href="#dm" x="242" y="498"/><use href="#dm" x="34" y="509"/><use href="#dm" x="282" y="515"/><use href="#dm" x="78" y="536"/><use href="#dm" x="342" y="537"/><use href="#dm" x="195" y="543"/><use href="#dm" x="44" y="584"/>
<use href="#dm" x="603" y="17"/><use href="#dm" x="662" y="30"/><use href="#dm" x="417" y="94"/><use href="#dm" x="471" y="98"/><use href="#dm" x="526" y="90"/><use href="#dm" x="461" y="168"/><use href="#dm" x="532" y="158"/><use href="#dm" x="658" y="166"/><use href="#dm" x="445" y="213"/><use href="#dm" x="606" y="217"/><use href="#dm" x="391" y="259"/><use href="#dm" x="485" y="274"/><use href="#dm" x="419" y="292"/><use href="#dm" x="688" y="296"/><use href="#dm" x="389" y="317"/><use href="#dm" x="459" y="307"/><use href="#dm" x="531" y="295"/><use href="#dm" x="560" y="312"/><use href="#dm" x="428" y="326"/><use href="#dm" x="549" y="349"/><use href="#dm" x="579" y="344"/><use href="#dm" x="426" y="372"/><use href="#dm" x="394" y="384"/><use href="#dm" x="654" y="405"/><use href="#dm" x="689" y="442"/><use href="#dm" x="531" y="468"/><use href="#dm" x="615" y="476"/><use href="#dm" x="745" y="467"/><use href="#dm" x="420" y="493"/><use href="#dm" x="727" y="506"/><use href="#dm" x="402" y="553"/><use href="#dm" x="630" y="556"/>
<use href="#dm" x="782" y="170"/><use href="#dm" x="992" y="173"/><use href="#dm" x="800" y="208"/><use href="#dm" x="1061" y="208"/><use href="#dm" x="868" y="252"/><use href="#dm" x="941" y="260"/><use href="#dm" x="824" y="284"/><use href="#dm" x="768" y="302"/><use href="#dm" x="984" y="311"/><use href="#dm" x="831" y="355"/><use href="#dm" x="982" y="365"/><use href="#dm" x="855" y="429"/><use href="#dm" x="959" y="447"/><use href="#dm" x="811" y="488"/><use href="#dm" x="876" y="517"/><use href="#dm" x="997" y="550"/><use href="#dm" x="946" y="560"/>
<use href="#dm" x="206" y="589"/><use href="#dm" x="363" y="589"/><use href="#dm" x="234" y="618"/><use href="#dm" x="308" y="604"/><use href="#dm" x="272" y="624"/><use href="#dm" x="354" y="619"/><use href="#dm" x="154" y="648"/><use href="#dm" x="301" y="688"/><use href="#dm" x="104" y="714"/><use href="#dm" x="306" y="727"/><use href="#dm" x="144" y="745"/><use href="#dm" x="197" y="747"/><use href="#dm" x="300" y="773"/><use href="#dm" x="256" y="856"/><use href="#dm" x="181" y="868"/><use href="#dm" x="314" y="879"/><use href="#dm" x="319" y="969"/><use href="#dm" x="372" y="1016"/>
<use href="#dm" x="464" y="586"/><use href="#dm" x="713" y="582"/><use href="#dm" x="388" y="616"/><use href="#dm" x="564" y="615"/><use href="#dm" x="749" y="611"/><use href="#dm" x="435" y="637"/><use href="#dm" x="459" y="620"/><use href="#dm" x="462" y="648"/><use href="#dm" x="604" y="681"/><use href="#dm" x="729" y="680"/><use href="#dm" x="481" y="690"/><use href="#dm" x="536" y="699"/><use href="#dm" x="597" y="711"/><use href="#dm" x="655" y="707"/><use href="#dm" x="386" y="718"/><use href="#dm" x="727" y="716"/><use href="#dm" x="516" y="725"/><use href="#dm" x="497" y="762"/><use href="#dm" x="558" y="757"/><use href="#dm" x="686" y="780"/><use href="#dm" x="741" y="784"/><use href="#dm" x="444" y="828"/><use href="#dm" x="478" y="849"/><use href="#dm" x="631" y="834"/><use href="#dm" x="430" y="874"/><use href="#dm" x="700" y="901"/><use href="#dm" x="744" y="895"/><use href="#dm" x="509" y="915"/><use href="#dm" x="546" y="941"/><use href="#dm" x="598" y="1030"/><use href="#dm" x="695" y="1070"/><use href="#dm" x="525" y="1116"/>
<use href="#dm" x="779" y="590"/><use href="#dm" x="867" y="602"/><use href="#dm" x="881" y="638"/><use href="#dm" x="882" y="692"/><use href="#dm" x="990" y="700"/><use href="#dm" x="765" y="710"/><use href="#dm" x="1057" y="757"/><use href="#dm" x="840" y="764"/><use href="#dm" x="1009" y="824"/><use href="#dm" x="1027" y="879"/><use href="#dm" x="847" y="867"/><use href="#dm" x="793" y="889"/><use href="#dm" x="934" y="902"/><use href="#dm" x="903" y="941"/><use href="#dm" x="959" y="967"/><use href="#dm" x="809" y="1003"/><use href="#dm" x="915" y="1003"/>
</g>
</g>
</defs>
<rect x="0" y="0" width="2115" height="2416" fill="#ffffff"/>
<g id="panelA">
<use href="#net"/>
<g id="samplesA" class="s">
<rect id="A-TNPo6-1" class="o6" x="456.5" y="406.5" width="23" height="23" rx="3"/>
<rect id="A-TNPo6-2" class="o6" x="527.5" y="424.5" width="23" height="23" rx="3"/>
<rect id="A-TNPo6-3" class="o6" x="555.5" y="402.5" width="23" height="23" rx="3"/>
<rect id="A-TNPo3-1" class="o3" x="590.5" y="410.5" width="23" height="23" rx="3"/>
<rect id="A-TNPo3-2" class="o3" x="757.5" y="363.5" width="23" height="23" rx="3"/>
<rect id="A-TNPo3-3" class="o3" x="677.5" y="460.5" width="23" height="23" rx="3"/>
<rect id="A-TNPo8-1" class="o8" x="470.5" y="432.5" width="23" height="23" rx="3"/>
<rect id="A-TNPo8-2" class="o8" x="492.5" y="570.5" width="23" height="23" rx="3"/>
<rect id="A-TNPo5-1" class="o5" x="468.5" y="480.5" width="23" height="23" rx="3"/>
<rect id="A-TNPo5-2" class="o5" x="429.5" y="503.5" width="23" height="23" rx="3"/>
<rect id="A-TNPo5-3" class="o5" x="483.5" y="517.5" width="23" height="23" rx="3"/>
<rect id="A-TNPo4-1" class="o4" x="457.5" y="506.5" width="23" height="23" rx="3"/>
<rect id="A-TNPo4-2" class="o4" x="517.5" y="557.5" width="23" height="23" rx="3"/>
<rect id="A-TNPo4-3" class="o4" x="437.5" y="661.5" width="23" height="23" rx="3"/>
<rect id="A-TNP11-1" class="o11" x="495.5" y="541.5" width="23" height="23" rx="3"/>
<rect id="A-TNP11-2" class="o11" x="604.5" y="750.5" width="23" height="23" rx="3"/>
<rect id="A-TNPo7-1" class="o7" x="543.5" y="549.5" width="23" height="23" rx="3"/>
<rect id="A-TNPo7-2" class="o7" x="582.5" y="637.5" width="23" height="23" rx="3"/>
<rect id="A-TNPo7-3" class="o7" x="686.5" y="678.5" width="23" height="23" rx="3"/>
<rect id="A-TNPo1-1" class="o1" x="731.5" y="567.5" width="23" height="23" rx="3"/>
<rect id="A-TNPo1-2" class="o1" x="725.5" y="637.5" width="23" height="23" rx="3"/>
<rect id="A-TNPo1-3" class="o1" x="752.5" y="629.5" width="23" height="23" rx="3"/>
</g>
</g>
<g id="panelB" transform="translate(-16.8 1229.9) scale(1.0293)">
<use href="#net"/>
<g id="samplesB" class="s">
<rect id="B-TNPo6-1" class="b6" x="456.5" y="406.5" width="23" height="23" rx="3"/>
<rect id="B-TNPo6-2" class="b6" x="527.5" y="424.5" width="23" height="23" rx="3"/>
<rect id="B-TNPo6-3" class="b6" x="555.5" y="402.5" width="23" height="23" rx="3"/>
<rect id="B-TNPo3-1" class="b3" x="590.5" y="410.5" width="23" height="23" rx="3"/>
<rect id="B-TNPo3-2" class="b3" x="757.5" y="363.5" width="23" height="23" rx="3"/>
<rect id="B-TNPo3-3" class="b3" x="677.5" y="460.5" width="23" height="23" rx="3"/>
<rect id="B-TNPo8-1" class="b8" x="470.5" y="432.5" width="23" height="23" rx="3"/>
<rect id="B-TNPo8-2" class="b8" x="492.5" y="570.5" width="23" height="23" rx="3"/>
<rect id="B-TNPo5-1" class="b5" x="468.5" y="480.5" width="23" height="23" rx="3"/>
<rect id="B-TNPo5-2" class="b5" x="429.5" y="503.5" width="23" height="23" rx="3"/>
<rect id="B-TNPo5-3" class="b5" x="483.5" y="517.5" width="23" height="23" rx="3"/>
<rect id="B-TNPo4-1" class="b4" x="457.5" y="506.5" width="23" height="23" rx="3"/>
<rect id="B-TNPo4-2" class="b4" x="517.5" y="557.5" width="23" height="23" rx="3"/>
<rect id="B-TNPo4-3" class="b4" x="437.5" y="661.5" width="23" height="23" rx="3"/>
<rect id="B-TNP11-1" class="b11" x="495.5" y="541.5" width="23" height="23" rx="3"/>
<rect id="B-TNP11-2" class="b11" x="604.5" y="750.5" width="23" height="23" rx="3"/>
<rect id="B-TNPo7-1" class="b7" x="543.5" y="549.5" width="23" height="23" rx="3"/>
<rect id="B-TNPo7-2" class="b7" x="582.5" y="637.5" width="23" height="23" rx="3"/>
<rect id="B-TNPo7-3" class="b7" x="686.5" y="678.5" width="23" height="23" rx="3"/>
<rect id="B-TNPo1-1" class="b1" x="731.5" y="567.5" width="23" height="23" rx="3"/>
<rect id="B-TNPo1-2" class="b1" x="725.5" y="637.5" width="23" height="23" rx="3"/>
<rect id="B-TNPo1-3" class="b1" x="752.5" y="629.5" width="23" height="23" rx="3"/>
</g>
</g>
<g id="labels">
<text class="t bd" x="2" y="57" font-size="57">A</text>
<text class="t bd" x="2" y="1280" font-size="57">B</text>
</g>
<g id="legend-soil">
<text class="t bd" x="1294" y="106" font-size="52" textLength="816" lengthAdjust="spacingAndGlyphs">Sample nodes colored by soil:</text>
<rect class="s o11" x="1296" y="237" width="53" height="54" rx="8"/>
<rect class="s o1" x="1296" y="346" width="53" height="54" rx="8"/>
<rect class="s o3" x="1296" y="461" width="53" height="54" rx="8"/>
<rect class="s o4" x="1296" y="570" width="53" height="54" rx="8"/>
<rect class="s o5" x="1738" y="241" width="53" height="54" rx="8"/>
<rect class="s o6" x="1738" y="356" width="53" height="54" rx="8"/>
<rect class="s o7" x="1738" y="465" width="53" height="54" rx="8"/>
<rect class="s o8" x="1738" y="576" width="53" height="54" rx="8"/>
<text class="t" x="1397" y="295" font-size="58" textLength="173" lengthAdjust="spacingAndGlyphs">TNP11</text>
<text class="t" x="1397" y="400" font-size="58" textLength="173" lengthAdjust="spacingAndGlyphs">TNPo1</text>
<text class="t" x="1397" y="517" font-size="58" textLength="173" lengthAdjust="spacingAndGlyphs">TNPo3</text>
<text class="t" x="1397" y="621" font-size="58" textLength="175" lengthAdjust="spacingAndGlyphs">TNPo4</text>
<text class="t" x="1838" y="295" font-size="58" textLength="174" lengthAdjust="spacingAndGlyphs">TNPo5</text>
<text class="t" x="1838" y="411" font-size="58" textLength="174" lengthAdjust="spacingAndGlyphs">TNPo6</text>
<text class="t" x="1838" y="519" font-size="58" textLength="174" lengthAdjust="spacingAndGlyphs">TNPo7</text>
<text class="t" x="1838" y="630" font-size="58" textLength="174" lengthAdjust="spacingAndGlyphs">TNPo8</text>
</g>
<g id="legend-otu">
<text class="t bd" x="1303" y="968" font-size="54" textLength="315" lengthAdjust="spacingAndGlyphs">OTU nodes:</text>
<circle cx="1319" cy="1045" r="25" fill="#c8c8c8" stroke="#111" stroke-width="2"/>
<text class="t" x="1398" y="1067" font-size="59" textLength="362" lengthAdjust="spacingAndGlyphs">Bacterial OTU</text>
<path d="M1318 1107L1353 1142L1318 1177L1283 1142Z" fill="#5f5f5f" stroke="#111" stroke-width="2"/>
<text class="t" x="1399" y="1157" font-size="59" textLength="299" lengthAdjust="spacingAndGlyphs">Fungal OTU</text>
</g>
<g id="legend-calcium">
<rect x="1281" y="1542" width="67" height="68" rx="10" fill="#86a9a7" stroke="#111" stroke-width="2"/>
<text class="t bd" x="1384" y="1588" font-size="57" textLength="688" lengthAdjust="spacingAndGlyphs">Sample nodes colored by</text>
<text class="t bd" x="1384" y="1665" font-size="57" textLength="361" lengthAdjust="spacingAndGlyphs">calcium perc.</text>
<rect x="1328" y="1718" width="706" height="159" fill="url(#cb)" stroke="#111" stroke-width="2"/>
<text class="t" x="1292" y="1945" font-size="52" textLength="186" lengthAdjust="spacingAndGlyphs">1329.00</text>
<text class="t" x="1921" y="1938" font-size="52" textLength="187" lengthAdjust="spacingAndGlyphs">4361.00</text>
</g>
</svg>
